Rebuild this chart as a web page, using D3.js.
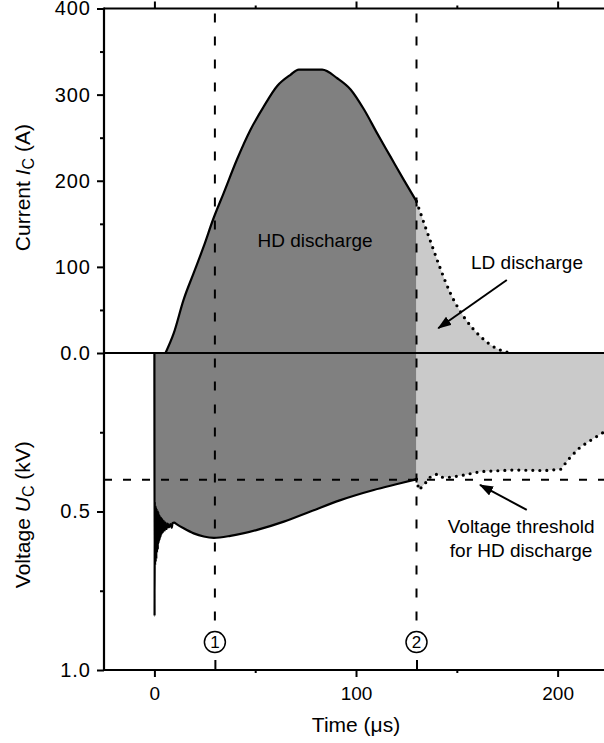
<!DOCTYPE html>
<html>
<head>
<meta charset="utf-8">
<script src="https://cdn.jsdelivr.net/npm/d3@7"></script>
<style>
  html, body { margin: 0; padding: 0; background: #fff; }
  svg { display: block; }
  text { font-family: "Liberation Sans", Arial, Helvetica, sans-serif; fill: #000; }
</style>
</head>
<body>
<svg id="chart" width="604" height="743"></svg>
<script>
// Discharge current, high-density (HD) phase: [time µs, current A]
const hdCurrent = [
  [5.5, 0], [9.6, 23], [14.5, 62], [19.5, 93], [24.5, 124], [29.1, 155],
  [34.4, 186], [41, 225], [47.6, 259], [54.2, 286], [60.9, 310], [67.5, 323],
  [71.6, 329], [83.2, 329], [90.7, 319], [97.3, 306], [103.9, 283],
  [110.5, 255], [117.1, 228], [123.7, 201], [130, 176]
];
// Discharge current, low-density (LD) phase: [time µs, current A]
const ldCurrent = [
  [130, 176], [133.7, 151], [137.8, 124], [142, 97], [146.9, 69],
  [153.5, 42], [161.8, 19], [170, 5], [176.7, 0]
];
// Capacitor voltage during HD phase: [time µs, voltage kV] (ringing right after breakdown)
const hdVoltage = [
  [0, 0], [0.08, 0.83], [0.2, 0.47], [0.35, 0.67], [0.5, 0.48], [0.65, 0.66],
  [0.8, 0.49], [0.95, 0.65], [1.1, 0.49], [1.3, 0.63], [1.5, 0.50], [1.7, 0.62],
  [1.9, 0.50], [2.1, 0.60], [2.35, 0.51], [2.6, 0.59], [2.85, 0.515], [3.1, 0.58],
  [3.4, 0.52], [3.7, 0.57], [4.0, 0.525], [4.3, 0.565], [4.7, 0.53], [5.1, 0.56],
  [5.5, 0.535], [6.0, 0.555], [6.6, 0.538], [7.2, 0.55], [8.0, 0.54], [8.6, 0.552],
  [9.0, 0.537], [9.8, 0.535], [11, 0.54], [14.5, 0.553], [19.5, 0.569],
  [24.5, 0.579], [29.5, 0.583], [37.7, 0.577], [51, 0.558], [64.2, 0.532],
  [77.4, 0.5], [92.3, 0.464], [108.8, 0.432], [122, 0.411], [130, 0.398]
];
// Capacitor voltage during LD phase: [time µs, voltage kV]
const ldVoltage = [
  [130, 0.398], [131.2, 0.432], [133.7, 0.416], [137, 0.39], [140.3, 0.382],
  [142.7, 0.392], [146.9, 0.392], [153.5, 0.385], [161.8, 0.374], [178.3, 0.369],
  [193.2, 0.371], [201.5, 0.367], [206.5, 0.327], [211.4, 0.296], [218, 0.269],
  [223.3, 0.248]
];
const thresholdVoltage = 0.4;           // kV
const markerTimes = [30, 130];          // µs, instants (1) and (2)
const markerLabels = ["1", "2"];
const timeTicks = [0, 100, 200];
const timeMinorTicks = [50, 150];
const currentTicks = [100, 200, 300, 400];
const currentMinorTicks = [50, 150, 250, 350];
const voltageTicks = [0, 0.5, 1.0];
const voltageMinorTicks = [0.25, 0.75];

const svg = d3.select("#chart");
const plotLeft = 104, plotRight = 604, plotTop = 8.5, plotBottom = 670, zeroY = 353;

const x = d3.scaleLinear().domain([-25, 223]).range([plotLeft, plotRight]);
const yI = d3.scaleLinear().domain([0, 400]).range([zeroY, plotTop]);
const yU = d3.scaleLinear().domain([0, 1]).range([zeroY, plotBottom]);

const DARK = "#808080", LIGHT = "#cacaca";

const defs = svg.append("defs");
defs.append("clipPath").attr("id", "plot")
  .append("rect").attr("x", plotLeft).attr("y", plotTop)
  .attr("width", plotRight - plotLeft).attr("height", plotBottom - plotTop);
defs.append("marker")
  .attr("id", "arrow").attr("markerUnits", "userSpaceOnUse")
  .attr("viewBox", "0 0 14 10").attr("refX", 13).attr("refY", 5)
  .attr("markerWidth", 14).attr("markerHeight", 10).attr("orient", "auto")
  .append("path").attr("d", "M0,0 L14,5 L0,10 Z").attr("fill", "#000");

const g = svg.append("g").attr("clip-path", "url(#plot)");

const areaI = d3.area().x(d => x(d[0])).y0(yI(0)).y1(d => yI(d[1])).curve(d3.curveMonotoneX);
const lineI = d3.line().x(d => x(d[0])).y(d => yI(d[1])).curve(d3.curveMonotoneX);
const areaU = d3.area().x(d => x(d[0])).y0(yU(0)).y1(d => yU(d[1])).curve(d3.curveMonotoneX);
const lineU = d3.line().x(d => x(d[0])).y(d => yU(d[1])).curve(d3.curveMonotoneX);
const areaULin = d3.area().x(d => x(d[0])).y0(yU(0)).y1(d => yU(d[1]));
const lineULin = d3.line().x(d => x(d[0])).y(d => yU(d[1]));

// Filled regions
g.append("path").attr("d", areaI(hdCurrent)).attr("fill", DARK);
g.append("path").attr("d", areaU(hdVoltage)).attr("fill", DARK);
g.append("path").attr("d", areaI(ldCurrent)).attr("fill", LIGHT);
g.append("path").attr("d", areaULin(ldVoltage)).attr("fill", LIGHT);

// Reference lines
g.append("line").attr("x1", plotLeft).attr("x2", plotRight)
  .attr("y1", yU(thresholdVoltage)).attr("y2", yU(thresholdVoltage))
  .attr("stroke", "#000").attr("stroke-width", 2).attr("stroke-dasharray", "8,11");
markerTimes.forEach(t => {
  g.append("line").attr("x1", x(t)).attr("x2", x(t)).attr("y1", plotTop + 5).attr("y2", yU(0.864))
    .attr("stroke", "#000").attr("stroke-width", 2).attr("stroke-dasharray", "9,14");
});

// Curves
g.append("path").attr("d", lineI(hdCurrent)).attr("fill", "none").attr("stroke", "#000").attr("stroke-width", 2.2);
g.append("path").attr("d", lineU(hdVoltage)).attr("fill", "none").attr("stroke", "#000").attr("stroke-width", 2.2);
g.append("path").attr("d", lineI(ldCurrent)).attr("fill", "none").attr("stroke", "#000")
  .attr("stroke-width", 3.2).attr("stroke-linecap", "round").attr("stroke-dasharray", "0,7");
g.append("path").attr("d", lineULin(ldVoltage)).attr("fill", "none").attr("stroke", "#000")
  .attr("stroke-width", 3.2).attr("stroke-linecap", "round").attr("stroke-dasharray", "0,7");

// Zero line
g.append("line").attr("x1", plotLeft).attr("x2", plotRight).attr("y1", zeroY).attr("y2", zeroY)
  .attr("stroke", "#000").attr("stroke-width", 2);

// Axes
function styleAxis(sel, size) {
  sel.select(".domain").remove();
  sel.selectAll(".tick line").attr("stroke", "#000").attr("stroke-width", 2);
  sel.selectAll(".tick text").attr("font-size", size || 19).attr("fill", "#000")
    .attr("font-family", "\"Liberation Sans\", Arial, sans-serif");
}
function leftLabels(sel) {
  styleAxis(sel, 20);
  sel.selectAll(".tick text").attr("letter-spacing", 1);
}
svg.append("g").attr("transform", `translate(${plotLeft},0)`)
  .call(d3.axisLeft(yI).tickValues(currentTicks).tickSize(7).tickPadding(6).tickFormat(d3.format("d"))).call(leftLabels);
svg.append("g").attr("transform", `translate(${plotLeft},0)`)
  .call(d3.axisLeft(yI).tickValues(currentMinorTicks).tickSize(4).tickFormat("")).call(styleAxis);
svg.append("g").attr("transform", `translate(${plotLeft},0)`)
  .call(d3.axisLeft(yU).tickValues(voltageTicks).tickSize(7).tickPadding(6).tickFormat(d3.format(".1f"))).call(leftLabels);
svg.append("g").attr("transform", `translate(${plotLeft},0)`)
  .call(d3.axisLeft(yU).tickValues(voltageMinorTicks).tickSize(4).tickFormat("")).call(styleAxis);

svg.append("g").attr("transform", `translate(0,${plotBottom})`)
  .call(d3.axisBottom(x).tickValues(timeTicks).tickSize(7).tickPadding(10)).call(styleAxis);
svg.append("g").attr("transform", `translate(0,${plotBottom})`)
  .call(d3.axisBottom(x).tickValues(timeMinorTicks).tickSize(3).tickFormat("")).call(styleAxis);
svg.append("g").attr("transform", `translate(0,${plotBottom})`)
  .call(d3.axisTop(x).tickValues(markerTimes).tickSize(10).tickFormat("")).call(styleAxis);
svg.append("g").attr("transform", `translate(0,${plotTop})`)
  .call(d3.axisTop(x).tickValues(timeTicks).tickSize(7).tickFormat("")).call(styleAxis);
svg.append("g").attr("transform", `translate(0,${plotTop})`)
  .call(d3.axisTop(x).tickValues(timeMinorTicks).tickSize(3).tickFormat("")).call(styleAxis);

// Frame lines
svg.append("line").attr("x1", plotLeft).attr("x2", plotLeft).attr("y1", plotTop - 1).attr("y2", plotBottom + 1)
  .attr("stroke", "#000").attr("stroke-width", 2.2);
svg.append("line").attr("x1", plotLeft).attr("x2", plotRight).attr("y1", plotTop).attr("y2", plotTop)
  .attr("stroke", "#000").attr("stroke-width", 2);
svg.append("line").attr("x1", plotLeft).attr("x2", plotRight).attr("y1", plotBottom).attr("y2", plotBottom)
  .attr("stroke", "#000").attr("stroke-width", 2);

// Circled instant markers
markerTimes.forEach((t, i) => {
  const cy = yU(0.912);
  svg.append("circle").attr("cx", x(t)).attr("cy", cy).attr("r", 10.5)
    .attr("fill", "#fff").attr("stroke", "#000").attr("stroke-width", 1.5);
  svg.append("text").attr("x", x(t)).attr("y", cy + 6).attr("text-anchor", "middle")
    .attr("font-size", 17).text(markerLabels[i]);
});

// Axis titles
svg.append("text").attr("x", x(100)).attr("y", 732).attr("text-anchor", "middle")
  .attr("font-size", 21).text("Time (μs)");

const tI = svg.append("text").attr("transform", `translate(30,${yI(192)}) rotate(-90)`)
  .attr("text-anchor", "middle").attr("font-size", 21);
tI.append("tspan").text("Current ");
tI.append("tspan").attr("font-style", "italic").text("I");
tI.append("tspan").attr("font-size", 16).attr("dy", 4).text("C");
tI.append("tspan").attr("dy", -4).text(" (A)");

const tU = svg.append("text").attr("transform", `translate(30,${yU(0.51)}) rotate(-90)`)
  .attr("text-anchor", "middle").attr("font-size", 21);
tU.append("tspan").text("Voltage ");
tU.append("tspan").attr("font-style", "italic").text("U");
tU.append("tspan").attr("font-size", 16).attr("dy", 4).text("C");
tU.append("tspan").attr("dy", -4).text(" (kV)");

// Annotations
svg.append("text").attr("x", x(79.7)).attr("y", yI(123.5)).attr("text-anchor", "middle")
  .attr("font-size", 19).text("HD discharge");
svg.append("text").attr("x", x(184.8)).attr("y", yI(97.6)).attr("text-anchor", "middle")
  .attr("font-size", 19).text("LD discharge");
svg.append("line").attr("x1", x(174.8)).attr("y1", yI(84.8)).attr("x2", x(140.8)).attr("y2", yI(28.7))
  .attr("stroke", "#000").attr("stroke-width", 2).attr("marker-end", "url(#arrow)");
svg.append("text").attr("x", x(181.9)).attr("y", yU(0.567)).attr("text-anchor", "middle")
  .attr("font-size", 19).text("Voltage threshold");
svg.append("text").attr("x", x(181.9)).attr("y", yU(0.643)).attr("text-anchor", "middle")
  .attr("font-size", 19).text("for HD discharge");
svg.append("line").attr("x1", x(184.7)).attr("y1", yU(0.495)).attr("x2", x(161.5)).attr("y2", yU(0.416))
  .attr("stroke", "#000").attr("stroke-width", 2).attr("marker-end", "url(#arrow)");
</script>
</body>
</html>
